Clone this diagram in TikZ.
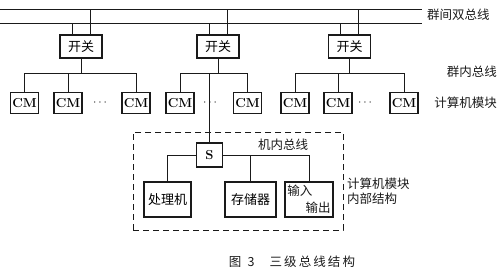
\documentclass[tikz,border=0pt]{standalone}
\usepackage{fontspec}
\usepackage{tikz}
\usetikzlibrary{positioning,calc}
\newfontfamily\cjk{Noto Sans CJK SC}
\definecolor{ink}{HTML}{1A1A1A}
\tikzset{
  switchbox/.style={rectangle, draw=ink, line width=1.6pt, minimum width=42pt,
                    minimum height=23pt, inner sep=0pt, font=\cjk\fontsize{13}{15}\selectfont},
  cmbox/.style={rectangle, draw=ink, line width=1.5pt, minimum width=28pt,
                minimum height=21pt, inner sep=0pt, font=\bfseries\fontsize{13}{15}\selectfont},
  sbox/.style={rectangle, draw=ink, line width=1.6pt, minimum width=26pt,
               minimum height=24pt, inner sep=0pt, font=\bfseries\fontsize{13}{15}\selectfont},
  unitbox/.style={rectangle, draw=ink, line width=1.5pt, minimum height=35pt,
                  inner sep=0pt, font=\cjk\fontsize{13}{15}\selectfont},
  dashbox/.style={rectangle, draw=ink, line width=0.9pt, dash pattern=on 6pt off 4pt,
                  minimum width=210pt, minimum height=98pt, inner sep=0pt},
  label/.style={font=\cjk\fontsize{12.5}{15}\selectfont, inner sep=0pt, text=ink},
  dots/.style={font=\fontsize{12}{14}\selectfont, inner sep=0pt, text=ink},
  bus/.style={draw=ink, line width=0.8pt}
}
\begin{document}
\begin{tikzpicture}[x=1pt, y=-1pt]
\useasboundingbox (0,0) rectangle (500,279);
% inter-group double bus
\coordinate (busTL) at (0,9);
\coordinate (busTR) at (422,9);
\coordinate (busBL) at (0,23);
\coordinate (busBR) at (422,23);
\coordinate (gb) at (0,73);
\node[label, anchor=west] (lbus) at (427,15) {群间双总线};

% switches
\node[switchbox] (sw1) at (81,46.5) {开关};
\node[switchbox] (sw2) at (218,46.5) {开关};
\node[switchbox] (sw3) at (349.5,46.5) {开关};

% computer modules
\node[cmbox] (cm11) at (24.5,103) {CM};
\node[cmbox] (cm12) at (68,103) {CM};
\node[dots] (d1) at (100,103) {$\cdots$};
\node[cmbox] (cm13) at (136,103) {CM};
\node[cmbox] (cm21) at (180,103) {CM};
\node[dots] (d2) at (210,103) {$\cdots$};
\node[cmbox] (cm22) at (247.5,103) {CM};
\node[cmbox] (cm31) at (295,103) {CM};
\node[cmbox] (cm32) at (338,103) {CM};
\node[dots] (d3) at (365,103) {$\cdots$};
\node[cmbox] (cm33) at (404,103) {CM};
\node[label, anchor=east] (lgroup) at (497,72) {群内总线};
\node[label, anchor=east] (lcm) at (497,103) {计算机模块};

% module internals
\node[dashbox] (inner) at (238,181) {};
\node[sbox] (s) at (209.5,155) {S};
\node[unitbox, minimum width=47pt] (proc) at (167.5,199.5) {处理机};
\node[unitbox, minimum width=51pt] (mem) at (250.5,199.5) {存储器};
\node[unitbox, minimum width=48pt] (io) at (309,199.5) {};
\node[label, anchor=north west] (iin) at ([shift={(3,4)}]io.north west) {输入};
\node[label, anchor=south east] (iout) at ([shift={(-3,-4)}]io.south east) {输出};
\node[label] (lin) at (283,145) {机内总线};
\node[label, anchor=north west, align=left] (lint) at (347,178) {计算机模块\\内部结构};

% caption
\node[label] (cap) at (292,262) {图\hspace{0.5em}3\hspace{1.2em}三\,级\,总\,线\,结\,构};

\draw[bus] (busTL) -- (busTR);
\draw[bus] (busBL) -- (busBR);
\foreach \sw in {sw1,sw2,sw3}{
  \draw[bus] ([xshift=-9pt]\sw.north) -- ([xshift=-9pt]\sw.north |- busBL);
  \draw[bus] ([xshift=9pt]\sw.north) -- ([xshift=9pt]\sw.north |- busTL);
  \draw[bus] (\sw.south) -- (\sw.south |- gb);
}
\draw[bus] (cm11.north) |- (cm13.north |- gb) -- (cm13.north);
\draw[bus] (cm12.north) -- (cm12.north |- gb);
\draw[bus] (cm21.north) |- (cm22.north |- gb) -- (cm22.north);
\draw[bus] (s.north) -- (s.north |- gb);
\draw[bus] (cm31.north) |- (cm33.north |- gb) -- (cm33.north);
\draw[bus] (cm32.north) -- (cm32.north |- gb);
\draw[bus] (s.west) -| (proc.north);
\draw[bus] (s.east) -| (io.north);
\draw[bus] (mem.north |- s.east) -- (mem.north);
\end{tikzpicture}
\end{document}
